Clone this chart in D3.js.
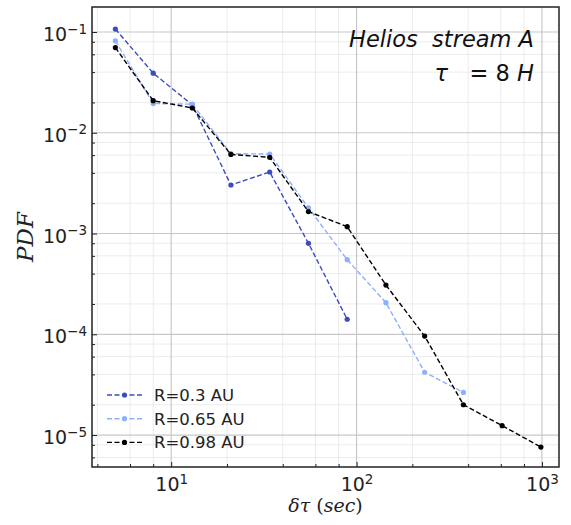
<!DOCTYPE html>
<html>
<head>
<meta charset="utf-8">
<script src="https://cdn.jsdelivr.net/npm/d3@7"></script>
<style>
  body { margin: 0; background: #fff; }
  text { font-family: "DejaVu Sans", sans-serif; }
</style>
</head>
<body>
<script>
// Lag values (sec) and PDF values
const lags = [5, 8, 13, 21, 34, 55, 89, 144, 233, 377, 610, 987];
const pdf03 = [0.107, 0.039, 0.0189, 0.00303, 0.00408, 0.0008, 0.000141];
const pdf065 = [0.0815, 0.0195, 0.0192, 0.0062, 0.00615, 0.0018, 0.00055, 0.000206, 0.000042, 0.0000265];
const pdf098 = [0.070, 0.0208, 0.0176, 0.0061, 0.0057, 0.00165, 0.00117, 0.000308, 0.000096, 0.000020, 0.0000124, 0.0000076];
const seriesNames = ['R=0.3 AU', 'R=0.65 AU', 'R=0.98 AU'];
const seriesColors = ['#3b4cc0', '#8db0fe', '#000000'];
const xTicks = [10, 100, 1000];
const yTicks = [1e-1, 1e-2, 1e-3, 1e-4, 1e-5];

const W = 571, H = 525;
const margin = { top: 7, right: 12, bottom: 58, left: 92 };
const width = W - margin.left - margin.right;
const height = H - margin.top - margin.bottom;

const svg = d3.select('body').append('svg')
    .attr('width', W)
    .attr('height', H);

const g = svg.append('g')
    .attr('transform', `translate(${margin.left},${margin.top})`);

const x = d3.scaleLog().domain([3.74, 1236]).range([0, width]);
const y = d3.scaleLog().domain([4.82e-6, 0.177]).range([height, 0]);

// minor positions 2,4,6,8 x 10^n
const minorX = [];
for (let e = 0; e <= 3; e++) [2, 4, 6, 8].forEach(m => {
    const v = m * Math.pow(10, e);
    if (v > x.domain()[0] && v < x.domain()[1]) minorX.push(v);
});
const minorY = [];
for (let e = -6; e <= -1; e++) [2, 4, 6, 8].forEach(m => {
    const v = m * Math.pow(10, e);
    if (v > y.domain()[0] && v < y.domain()[1]) minorY.push(v);
});

// grid
g.selectAll('.gx-minor').data(minorX).enter().append('line')
    .attr('x1', d => x(d)).attr('x2', d => x(d))
    .attr('y1', 0).attr('y2', height)
    .attr('stroke', '#ebebeb').attr('stroke-width', 1);
g.selectAll('.gy-minor').data(minorY).enter().append('line')
    .attr('y1', d => y(d)).attr('y2', d => y(d))
    .attr('x1', 0).attr('x2', width)
    .attr('stroke', '#ebebeb').attr('stroke-width', 1);
g.selectAll('.gx-major').data(xTicks).enter().append('line')
    .attr('x1', d => x(d)).attr('x2', d => x(d))
    .attr('y1', 0).attr('y2', height)
    .attr('stroke', '#c8c8c8').attr('stroke-width', 1.2);
g.selectAll('.gy-major').data(yTicks).enter().append('line')
    .attr('y1', d => y(d)).attr('y2', d => y(d))
    .attr('x1', 0).attr('x2', width)
    .attr('stroke', '#c8c8c8').attr('stroke-width', 1.2);

// axes (ticks inward)
const sup = { '-': '\u2212', '0': '0', '1': '1', '2': '2', '3': '3', '4': '4', '5': '5' };
function powLabel(sel, d) {
    const e = Math.round(Math.log10(d));
    sel.text(null);
    sel.append('tspan').text('10');
    sel.append('tspan').attr('font-size', '13.5px').attr('dy', '-0.55em')
        .text(String(e).split('').map(c => sup[c]).join(''));
}

const xAxis = g.append('g').attr('transform', `translate(0,${height})`)
    .call(d3.axisBottom(x).tickValues(xTicks).tickSize(-5).tickFormat(''));
xAxis.selectAll('.tick text').remove();
xAxis.selectAll('.tick').append('text')
    .attr('y', 24).attr('text-anchor', 'middle')
    .attr('fill', '#222').attr('font-size', '19px')
    .each(function(d) { powLabel(d3.select(this), d); });

const yAxis = g.append('g')
    .call(d3.axisLeft(y).tickValues(yTicks).tickSize(-5).tickFormat(''));
yAxis.selectAll('.tick').append('text')
    .attr('x', -5).attr('dy', '0.45em').attr('text-anchor', 'end')
    .attr('fill', '#222').attr('font-size', '19px')
    .each(function(d) { powLabel(d3.select(this), d); });

// minor ticks
g.append('g').attr('transform', `translate(0,${height})`)
    .call(d3.axisBottom(x).tickValues(minorX).tickSize(-3).tickFormat(''))
    .call(a => a.select('.domain').remove());
g.append('g')
    .call(d3.axisLeft(y).tickValues(minorY).tickSize(-3).tickFormat(''))
    .call(a => a.select('.domain').remove());

g.selectAll('.tick line').attr('stroke', '#222');
g.selectAll('.domain').attr('stroke', 'none');

// frame
g.append('rect')
    .attr('width', width).attr('height', height)
    .attr('fill', 'none').attr('stroke', '#222').attr('stroke-width', 1.5);

// series
const allSeries = [pdf03, pdf065, pdf098].map((vals, i) => ({
    name: seriesNames[i],
    color: seriesColors[i],
    points: vals.map((v, j) => ({ x: lags[j], y: v }))
}));

const line = d3.line().x(d => x(d.x)).y(d => y(d.y));

allSeries.forEach(s => {
    g.append('path')
        .datum(s.points)
        .attr('d', line)
        .attr('fill', 'none')
        .attr('stroke', s.color)
        .attr('stroke-width', 1.4)
        .attr('stroke-dasharray', '5,2.5');
    g.selectAll(null).data(s.points).enter().append('circle')
        .attr('cx', d => x(d.x)).attr('cy', d => y(d.y))
        .attr('r', 2.6).attr('fill', s.color);
});

// legend
const legend = g.append('g').attr('transform', `translate(15,${395 - margin.top})`);
allSeries.forEach((s, i) => {
    const row = legend.append('g').attr('transform', `translate(0,${i * 23.7})`);
    row.append('line')
        .attr('x1', 0).attr('x2', 35).attr('y1', 0).attr('y2', 0)
        .attr('stroke', s.color).attr('stroke-width', 1.4)
        .attr('stroke-dasharray', '5,2.5');
    row.append('circle').attr('cx', 17.5).attr('cy', 0).attr('r', 2.6).attr('fill', s.color);
    row.append('text')
        .attr('x', 47).attr('dy', '0.36em')
        .attr('font-size', '16.5px').attr('fill', '#222')
        .text(s.name);
});

// annotation
svg.append('text')
    .attr('x', 534).attr('y', 47)
    .attr('text-anchor', 'end').attr('font-size', '22.5px')
    .attr('font-style', 'italic').attr('fill', '#111')
    .attr('xml:space', 'preserve')
    .text('Helios  stream A');
const l2 = svg.append('text')
    .attr('x', 534).attr('y', 81)
    .attr('text-anchor', 'end').attr('font-size', '22.5px')
    .attr('fill', '#111')
    .attr('xml:space', 'preserve');
l2.append('tspan').attr('font-style', 'italic').text('\u03c4');
l2.append('tspan').text('   = 8 ');
l2.append('tspan').attr('font-style', 'italic').text('H');

// axis labels
const xl = svg.append('text')
    .attr('x', margin.left + width / 2).attr('y', 512)
    .attr('text-anchor', 'middle').attr('font-size', '19px')
    .attr('fill', '#222')
    .style('font-family', '"DejaVu Serif", serif');
xl.append('tspan').attr('font-style', 'italic').text('\u03b4\u03c4');
xl.append('tspan').text(' (');
xl.append('tspan').attr('font-style', 'italic').text('sec');
xl.append('tspan').text(')');

svg.append('text')
    .attr('transform', `translate(33,${margin.top + height / 2}) rotate(-90)`)
    .attr('text-anchor', 'middle').attr('font-size', '23px')
    .attr('font-style', 'italic').attr('fill', '#222')
    .style('font-family', '"DejaVu Serif", serif')
    .text('PDF');
</script>
</body>
</html>
